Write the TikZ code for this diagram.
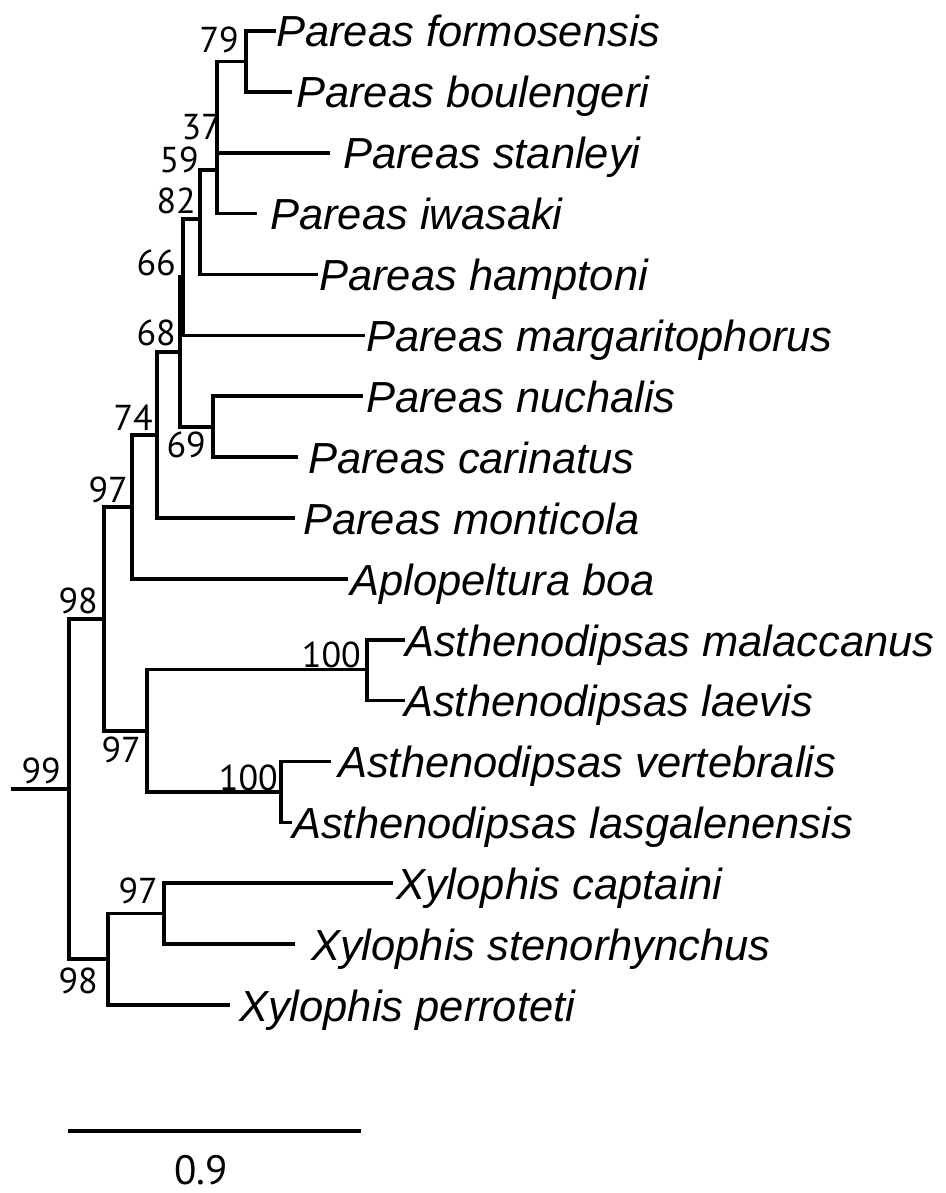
\documentclass[tikz,border=0pt]{standalone}
\usepackage{fontspec}
\setmainfont{Liberation Sans}
\newfontfamily\numfont{PT Sans}
\begin{document}
\begin{tikzpicture}[x=1pt,y=-1pt,
  br/.style={line width=3.2pt, line join=miter},
  leaf/.style={anchor=base west, inner sep=0pt, font=\fontsize{43.5}{48}\selectfont\itshape},
  bs/.style={anchor=base east, inner sep=0pt, font=\numfont\fontsize{36}{40}\selectfont}]
\useasboundingbox (0,0) rectangle (945,1193);
% internal nodes
\coordinate (r0) at (11,789);
\coordinate (n99) at (69,789);
\coordinate (n98a) at (104,619);
\coordinate (n97a) at (132,507);
\coordinate (n74) at (157,435);
\coordinate (n68) at (180,352);
\coordinate (n66) at (183,277);
\coordinate (n82) at (200,219);
\coordinate (n37) at (217,170);
\coordinate (n79) at (246,61.5);
\coordinate (n69) at (213,427);
\coordinate (n97b) at (147,731);
\coordinate (n100a) at (367,669.5);
\coordinate (n100b) at (281,792);
\coordinate (n98b) at (108,959);
\coordinate (n97c) at (164,913.5);
% leaf tips
\coordinate (t1) at (276,31);
\coordinate (t2) at (292,92);
\coordinate (t3) at (330,153);
\coordinate (t4) at (257,213.5);
\coordinate (t5) at (318,274.5);
\coordinate (t6) at (365,335.5);
\coordinate (t7) at (363,396);
\coordinate (t8) at (298,457);
\coordinate (t9) at (295,518);
\coordinate (t10) at (348,579);
\coordinate (t11) at (405,640);
\coordinate (t12) at (405,700.5);
\coordinate (t13) at (331,761.5);
\coordinate (t14) at (292,822.5);
\coordinate (t15) at (393,883);
\coordinate (t16) at (295,944);
\coordinate (t17) at (230,1005);
% branches
\draw[br] (r0) -- (n99);
\draw[br] (n99) |- (n98a);
\draw[br] (n99) |- (n98b);
\draw[br] (n98a) |- (n97a);
\draw[br] (n98a) |- (n97b);
\draw[br] (n97a) |- (n74);
\draw[br] (n97a) |- (t10);
\draw[br] (n74) |- (n68);
\draw[br] (n74) |- (t9);
\draw[br] (n68) |- (n66);
\draw[br] (n68) |- (n69);
\draw[br] (n66) |- (n82);
\draw[br] (n66) |- (t6);
\draw[br] (n82) |- (n37);
\draw[br] (n82) |- (t5);
\draw[br] (n37) |- (n79);
\draw[br] (n37) |- (t3);
\draw[br] (n37) |- (t4);
\draw[br] (n79) |- (t1);
\draw[br] (n79) |- (t2);
\draw[br] (n69) |- (t7);
\draw[br] (n69) |- (t8);
\draw[br] (n97b) |- (n100a);
\draw[br] (n97b) |- (n100b);
\draw[br] (n100a) |- (t11);
\draw[br] (n100a) |- (t12);
\draw[br] (n100b) |- (t13);
\draw[br] (n100b) |- (t14);
\draw[br] (n98b) |- (n97c);
\draw[br] (n98b) |- (t17);
\draw[br] (n97c) |- (t15);
\draw[br] (n97c) |- (t16);
% leaf labels
\node[leaf] (L1) at (276,47) {Pareas formosensis};
\node[leaf] (L2) at (296,108) {Pareas boulengeri};
\node[leaf] (L3) at (343,169) {Pareas stanleyi};
\node[leaf] (L4) at (270,229.5) {Pareas iwasaki};
\node[leaf] (L5) at (319,290.5) {Pareas hamptoni};
\node[leaf] (L6) at (366,351.5) {Pareas margaritophorus};
\node[leaf] (L7) at (366,412) {Pareas nuchalis};
\node[leaf] (L8) at (308,473) {Pareas carinatus};
\node[leaf] (L9) at (303,534) {Pareas monticola};
\node[leaf] (L10) at (350,595) {Aplopeltura boa};
\node[leaf] (L11) at (405,656) {Asthenodipsas malaccanus};
\node[leaf] (L12) at (404,716.5) {Asthenodipsas laevis};
\node[leaf] (L13) at (338,777.5) {Asthenodipsas vertebralis};
\node[leaf] (L14) at (292,838.5) {Asthenodipsas lasgalenensis};
\node[leaf] (L15) at (396,899) {Xylophis captaini};
\node[leaf] (L16) at (311,960) {Xylophis stenorhynchus};
\node[leaf] (L17) at (239,1021) {Xylophis perroteti};
% support values
\node[bs] (s79) at (239,53) {79};
\node[bs] (s37) at (221,140) {37};
\node[bs] (s59) at (199,172) {59};
\node[bs] (s82) at (196,213) {82};
\node[bs] (s66) at (176,275) {66};
\node[bs] (s68) at (176,345) {68};
\node[bs] (s74) at (153,430) {74};
\node[bs] (s69) at (206,457) {69};
\node[bs] (s97a) at (128,502) {97};
\node[bs] (s98a) at (98,613) {98};
\node[bs] (s100a) at (361,667) {100};
\node[bs] (s97b) at (141,762) {97};
\node[bs] (s99) at (61,783) {99};
\node[bs] (s100b) at (278,790) {100};
\node[bs] (s97c) at (158,903) {97};
\node[bs] (s98b) at (98,993) {98};
% scale bar
\coordinate (sb1) at (68,1131);
\coordinate (sb2) at (361,1131);
\draw[br] (sb1) -- (sb2);
\node[inner sep=0pt, anchor=base, font=\numfont\fontsize{41}{45}\selectfont] (sbl) at (201,1184) {0.9};
\end{tikzpicture}
\end{document}
